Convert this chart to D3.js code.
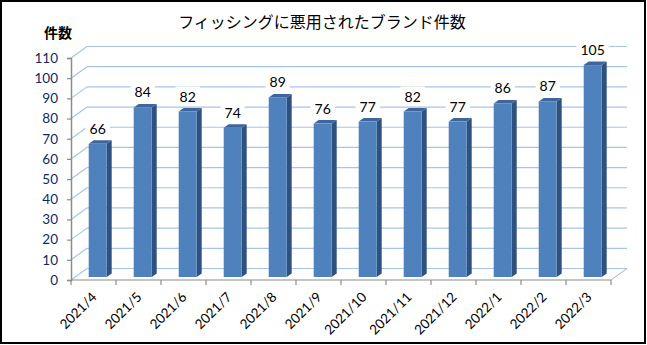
<!DOCTYPE html>
<html><head><meta charset="utf-8">
<script src="https://cdn.jsdelivr.net/npm/d3@7/dist/d3.min.js"></script>
<style>html,body{margin:0;padding:0;background:#fff;}svg{display:block;}</style>
</head><body>
<script>
const categories = ["2021/4","2021/5","2021/6","2021/7","2021/8","2021/9","2021/10","2021/11","2021/12","2022/1","2022/2","2022/3"];
const values = [66,84,82,74,89,76,77,82,77,86,87,105];
const yTicks = [0,10,20,30,40,50,60,70,80,90,100,110];
const title = "フィッシングに悪用されたブランド件数";
const yTitle = "件数";

const W = 647, H = 345;
const svg = d3.select("body").append("svg").attr("width", W).attr("height", H);

// plot geometry (front plane)
const x0 = 71, x1 = 611, yBottom = 280, yTop = 58;
const depthX = 16, depthY = -11.5;          // wall depth
const barOffX = 4.2, barOffY = -3;           // bar front plane offset
const barDX = 5, barDY = -3.5;               // bar depth

const x = d3.scaleBand().domain(categories).range([x0, x1]).padding(0);
const y = d3.scaleLinear().domain([0, 110]).range([yBottom, yTop]);

const grid = "#a7c4e9", axisGray = "#8c8c8c";

// border
svg.append("rect").attr("x",1).attr("y",1).attr("width",644).attr("height",342)
  .attr("fill","#fff").attr("stroke","#000").attr("stroke-width",2);

// title
svg.append("text").attr("x",322).attr("y",28).attr("text-anchor","middle")
  .attr("font-family","'Noto Sans CJK JP'").attr("font-size",16).attr("fill","#000")
  .text(title);
svg.append("text").attr("x",58).attr("y",38).attr("text-anchor","middle")
  .attr("font-family","'Noto Sans CJK JP'").attr("font-weight","bold").attr("font-size",14).attr("fill","#000")
  .text(yTitle);

// back wall gridlines + side wall diagonals
const g = svg.append("g");
yTicks.forEach(t => {
  const yy = y(t);
  g.append("line").attr("x1",x0+depthX).attr("x2",x1+depthX)
    .attr("y1",yy+depthY).attr("y2",yy+depthY).attr("stroke",grid).attr("stroke-width",1.2);
  g.append("line").attr("x1",x0).attr("y1",yy).attr("x2",x0+depthX).attr("y2",yy+depthY)
    .attr("stroke",grid).attr("stroke-width",1.2);
});
// floor
g.append("line").attr("x1",x1).attr("y1",yBottom).attr("x2",x1+depthX).attr("y2",yBottom+depthY)
  .attr("stroke","#b0b0b0").attr("stroke-width",1);
g.append("line").attr("x1",x0).attr("y1",yBottom).attr("x2",x1).attr("y2",yBottom)
  .attr("stroke",axisGray).attr("stroke-width",1.2);

// y axis
const yAxis = d3.axisLeft(y).tickValues(yTicks).tickSize(4).tickPadding(9);
const ya = svg.append("g").attr("transform",`translate(${x0},0)`).call(yAxis);
ya.select(".domain").attr("stroke",axisGray).attr("stroke-width",1.5);
ya.selectAll(".tick line").attr("stroke",axisGray).attr("stroke-width",1.2);
ya.selectAll(".tick text").attr("font-family","Lato").attr("font-size",13.5).attr("fill","#0e2a66");

// x ticks
const xa = svg.append("g");
const tickPos = categories.map(c => x(c)).concat([x1]);
tickPos.forEach(p => {
  xa.append("line").attr("x1",p).attr("x2",p).attr("y1",yBottom).attr("y2",yBottom+5)
    .attr("stroke",axisGray).attr("stroke-width",1.2);
});
categories.forEach(c => {
  const cx = x(c) + x.bandwidth()/2 + 4, cy = 298;
  xa.append("text").attr("transform",`translate(${cx},${cy}) rotate(-45)`)
    .attr("text-anchor","end").attr("font-family","Lato").attr("font-size",13.5).attr("fill","#000")
    .text(c);
});

// bars
const bw = x.bandwidth()*0.4;
const bars = svg.append("g");
const base = y(0) + barOffY;
categories.forEach((c, i) => {
  const v = values[i];
  const fx = x(c) + x.bandwidth()/2 - bw/2 + barOffX;
  const ft = y(v) + barOffY;
  // side
  bars.append("path").attr("d",`M${fx+bw},${ft}L${fx+bw+barDX},${ft+barDY}L${fx+bw+barDX},${base+barDY}L${fx+bw},${base}Z`)
    .attr("fill","#2f5180");
  // top
  bars.append("path").attr("d",`M${fx},${ft}L${fx+bw},${ft}L${fx+bw+barDX},${ft+barDY}L${fx+barDX},${ft+barDY}Z`)
    .attr("fill","#3e669c");
  // front
  bars.append("rect").attr("x",fx).attr("y",ft).attr("width",bw).attr("height",base-ft)
    .attr("fill","#4f81bd");
  // label
  const lx = fx + bw/2, ly = ft - 10;
  const t = bars.append("text").attr("x",lx).attr("y",ly).attr("text-anchor","middle")
    .attr("font-family","Lato").attr("font-size",14).attr("fill","#000").text(v);
  const bb = t.node().getBBox();
  bars.insert("rect", () => t.node()).attr("x",bb.x-4).attr("y",bb.y-1).attr("width",bb.width+8).attr("height",bb.height+2)
    .attr("fill","#fff");
});
</script>
</body></html>
